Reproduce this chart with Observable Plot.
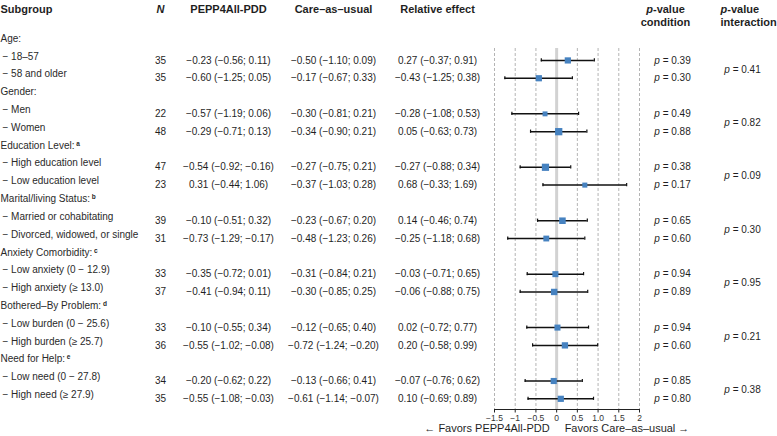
<!DOCTYPE html>
<html><head><meta charset="utf-8">
<script src="https://cdn.jsdelivr.net/npm/d3@7"></script>
<script src="https://cdn.jsdelivr.net/npm/@observablehq/plot@0.6"></script>
<style>body{margin:0;background:#fff} #chart{width:777px;height:436px}</style>
</head><body><div id="chart"></div>
<script>
const groups = ["Age:", "Gender:", "Education Level:", "Marital/living Status:", "Anxiety Comorbidity:", "Bothered–By Problem:", "Need for Help:"];
const groupNotes = ["", "", "a", "b", "c", "d", "e"];
const subgroups = ["18–57", "58 and older", "Men", "Women", "High education level", "Low education level",
  "Married or cohabitating", "Divorced, widowed, or single", "Low anxiety (0 − 12.9)", "High anxiety (≥ 13.0)",
  "Low burden (0 − 25.6)", "High burden (≥ 25.7)", "Low need (0 − 27.8)", "High need (≥ 27.9)"];
const nValues = [35, 35, 22, 48, 47, 23, 39, 31, 33, 37, 33, 36, 34, 35];
const peppEst = [-0.23, -0.60, -0.57, -0.29, -0.54, 0.31, -0.10, -0.73, -0.35, -0.41, -0.10, -0.55, -0.20, -0.55];
const peppLo  = [-0.56, -1.25, -1.19, -0.71, -0.92, -0.44, -0.51, -1.29, -0.72, -0.94, -0.55, -1.02, -0.62, -1.08];
const peppHi  = [0.11, 0.05, 0.06, 0.13, -0.16, 1.06, 0.32, -0.17, 0.01, 0.11, 0.34, -0.08, 0.22, -0.03];
const cauEst = [-0.50, -0.17, -0.30, -0.34, -0.27, -0.37, -0.23, -0.48, -0.31, -0.30, -0.12, -0.72, -0.13, -0.61];
const cauLo  = [-1.10, -0.67, -0.81, -0.90, -0.75, -1.03, -0.67, -1.23, -0.84, -0.85, -0.65, -1.24, -0.66, -1.14];
const cauHi  = [0.09, 0.33, 0.21, 0.21, 0.21, 0.28, 0.20, 0.26, 0.21, 0.25, 0.40, -0.20, 0.41, -0.07];
const relEst = [0.27, -0.43, -0.28, 0.05, -0.27, 0.68, 0.14, -0.25, -0.03, -0.06, 0.02, 0.20, -0.07, 0.10];
const relLo  = [-0.37, -1.25, -1.08, -0.63, -0.88, -0.33, -0.46, -1.18, -0.71, -0.88, -0.72, -0.58, -0.76, -0.69];
const relHi  = [0.91, 0.38, 0.53, 0.73, 0.34, 1.69, 0.74, 0.68, 0.65, 0.75, 0.77, 0.99, 0.62, 0.89];
const pCondition = [0.39, 0.30, 0.49, 0.88, 0.38, 0.17, 0.65, 0.60, 0.94, 0.89, 0.94, 0.60, 0.85, 0.80];
const pInteraction = [0.41, 0.82, 0.09, 0.30, 0.95, 0.21, 0.38];
const xTicks = [-1.5, -1, -0.5, 0, 0.5, 1, 1.5, 2];
const tickLabels = ["−1.5", "−1", "−0.5", "0", "0.5", "1.0", "1.5", "2"];

const fmt = v => (v < 0 ? "−" : "") + Math.abs(v).toFixed(2);
const ci = (e, l, h) => `${fmt(e)} (${fmt(l)}; ${fmt(h)})`;

const rows = subgroups.map((s, i) => ({
  label: "− " + s,
  row: 3 * Math.floor(i / 2) + 1 + (i % 2),
  n: nValues[i],
  pepp: ci(peppEst[i], peppLo[i], peppHi[i]),
  cau: ci(cauEst[i], cauLo[i], cauHi[i]),
  relText: ci(relEst[i], relLo[i], relHi[i]),
  rel: relEst[i], lo: relLo[i], hi: relHi[i],
  p: "p = " + pCondition[i].toFixed(2)
}));
const heads = groups.map((g, i) => ({label: g, row: 3 * i, mid: 3 * i + 1.5, pInt: "p = " + pInteraction[i].toFixed(2)}));

const W = 777, H = 436, ML = 494, MR = 138, MT = 48, MB = 27;
const ink = "#1f1f1f";
const hdr = (t, o) => Plot.text([t], {text: d => d, frameAnchor: "top-left", dy: -43, fontWeight: "bold", fontSize: 11, fill: ink, textAnchor: "middle", ...o});

const chart = Plot.plot({
  width: W, height: H, marginLeft: ML, marginRight: MR, marginTop: MT, marginBottom: MB,
  x: {domain: [-1.5, 2], label: null},
  y: {domain: [0.33, 20.6], reverse: true, axis: null},
  r: {type: "sqrt", domain: [0, 100], range: [0, 5.93]},
  style: {fontFamily: "'Liberation Sans', Arial, Helvetica, sans-serif", fontSize: "10px", color: ink, background: "#fff"},
  marks: [
    Plot.ruleX(xTicks, {stroke: "#b4b4b4", strokeDasharray: "3,2"}),
    Plot.ruleX([0], {stroke: "#d2d2d2", strokeWidth: 3}),
    Plot.ruleY([20.6], {stroke: "#222"}),
    Plot.axisX({ticks: xTicks, tickFormat: d => tickLabels[xTicks.indexOf(d)], tickSize: 3.5, tickPadding: 2, fontSize: 8.5, stroke: "#222", fill: "#333", label: null}),
    Plot.ruleY(rows, {y: "row", x1: "lo", x2: "hi", stroke: "#111", strokeWidth: 1.5}),
    Plot.ruleX(rows, {x: "lo", y1: d => d.row - 0.09, y2: d => d.row + 0.09, stroke: "#111", strokeWidth: 1.2}),
    Plot.ruleX(rows, {x: "hi", y1: d => d.row - 0.09, y2: d => d.row + 0.09, stroke: "#111", strokeWidth: 1.2}),
    Plot.dot(rows, {x: "rel", y: "row", r: "n", symbol: "square", fill: "#4682c0"}),
    // left text columns
    Plot.text(heads, {y: "row", text: "label", frameAnchor: "left", dx: -494, dy: -4, textAnchor: "start", fill: "#2a2a2a"}),
    Plot.text(rows, {y: "row", text: "label", frameAnchor: "left", dx: -492, dy: -4, textAnchor: "start", fill: "#2a2a2a"}),
    Plot.text(rows, {y: "row", text: "n", frameAnchor: "left", dx: 160 - ML, textAnchor: "middle", fill: ink}),
    Plot.text(rows, {y: "row", text: "pepp", frameAnchor: "left", dx: 228 - ML, textAnchor: "middle", fill: ink}),
    Plot.text(rows, {y: "row", text: "cau", frameAnchor: "left", dx: 333 - ML, textAnchor: "middle", fill: ink}),
    Plot.text(rows, {y: "row", text: "relText", frameAnchor: "left", dx: 437 - ML, textAnchor: "middle", fill: ink}),
    Plot.text(rows, {y: "row", text: "p", frameAnchor: "right", dx: 672 - (W - MR), textAnchor: "middle", fill: ink}),
    Plot.text(heads, {y: "mid", text: "pInt", frameAnchor: "right", dx: 742 - (W - MR), textAnchor: "middle", fill: ink}),
    // headers
    hdr("Subgroup", {dx: -ML, textAnchor: "start"}),
    hdr("N", {dx: 160 - ML, fontStyle: "italic"}),
    hdr("PEPP4All-PDD", {dx: 228 - ML}),
    hdr("Care–as–usual", {dx: 333 - ML}),
    hdr("Relative effect", {dx: 437 - ML}),
    hdr("p-value", {frameAnchor: "top-right", dx: 665 - (W - MR)}),
    hdr("condition", {frameAnchor: "top-right", dx: 665 - (W - MR), dy: -30}),
    hdr("p-value", {frameAnchor: "top-right", dx: 720 - (W - MR), textAnchor: "start"}),
    hdr("interaction", {frameAnchor: "top-right", dx: 720 - (W - MR), dy: -30, textAnchor: "start"}),
    // bottom direction labels
    Plot.text(["← Favors PEPP4All-PDD"], {text: d => d, x: () => 0, frameAnchor: "bottom", dy: 22.5, dx: -7, textAnchor: "end", fontSize: 11, fill: ink}),
    Plot.text(["Favors Care–as–usual →"], {text: d => d, x: () => 0, frameAnchor: "bottom", dy: 22.5, dx: 8, textAnchor: "start", fontSize: 11, fill: ink})
  ]
});

// italic "p" and superscript notes
const NS = "http://www.w3.org/2000/svg";
const noteMap = new Map(groups.map((g, i) => [g, groupNotes[i]]));
chart.querySelectorAll("text, tspan").forEach(t => {
  if (t.children.length) return;
  const s = t.textContent;
  if (/^p( =|-value)/.test(s)) {
    t.textContent = "";
    const a = document.createElementNS(NS, "tspan");
    a.setAttribute("font-style", "italic");
    a.textContent = "p";
    const b = document.createElementNS(NS, "tspan");
    b.textContent = s.slice(1);
    t.append(a, b);
  } else if (noteMap.get(s)) {
    const sp = document.createElementNS(NS, "tspan");
    sp.setAttribute("font-size", "6.5px");
    sp.setAttribute("font-weight", "bold");
    sp.setAttribute("dy", "-3");
    sp.textContent = " " + noteMap.get(s);
    t.append(sp);
  }
});
document.getElementById("chart").append(chart);
</script>
</body></html>
